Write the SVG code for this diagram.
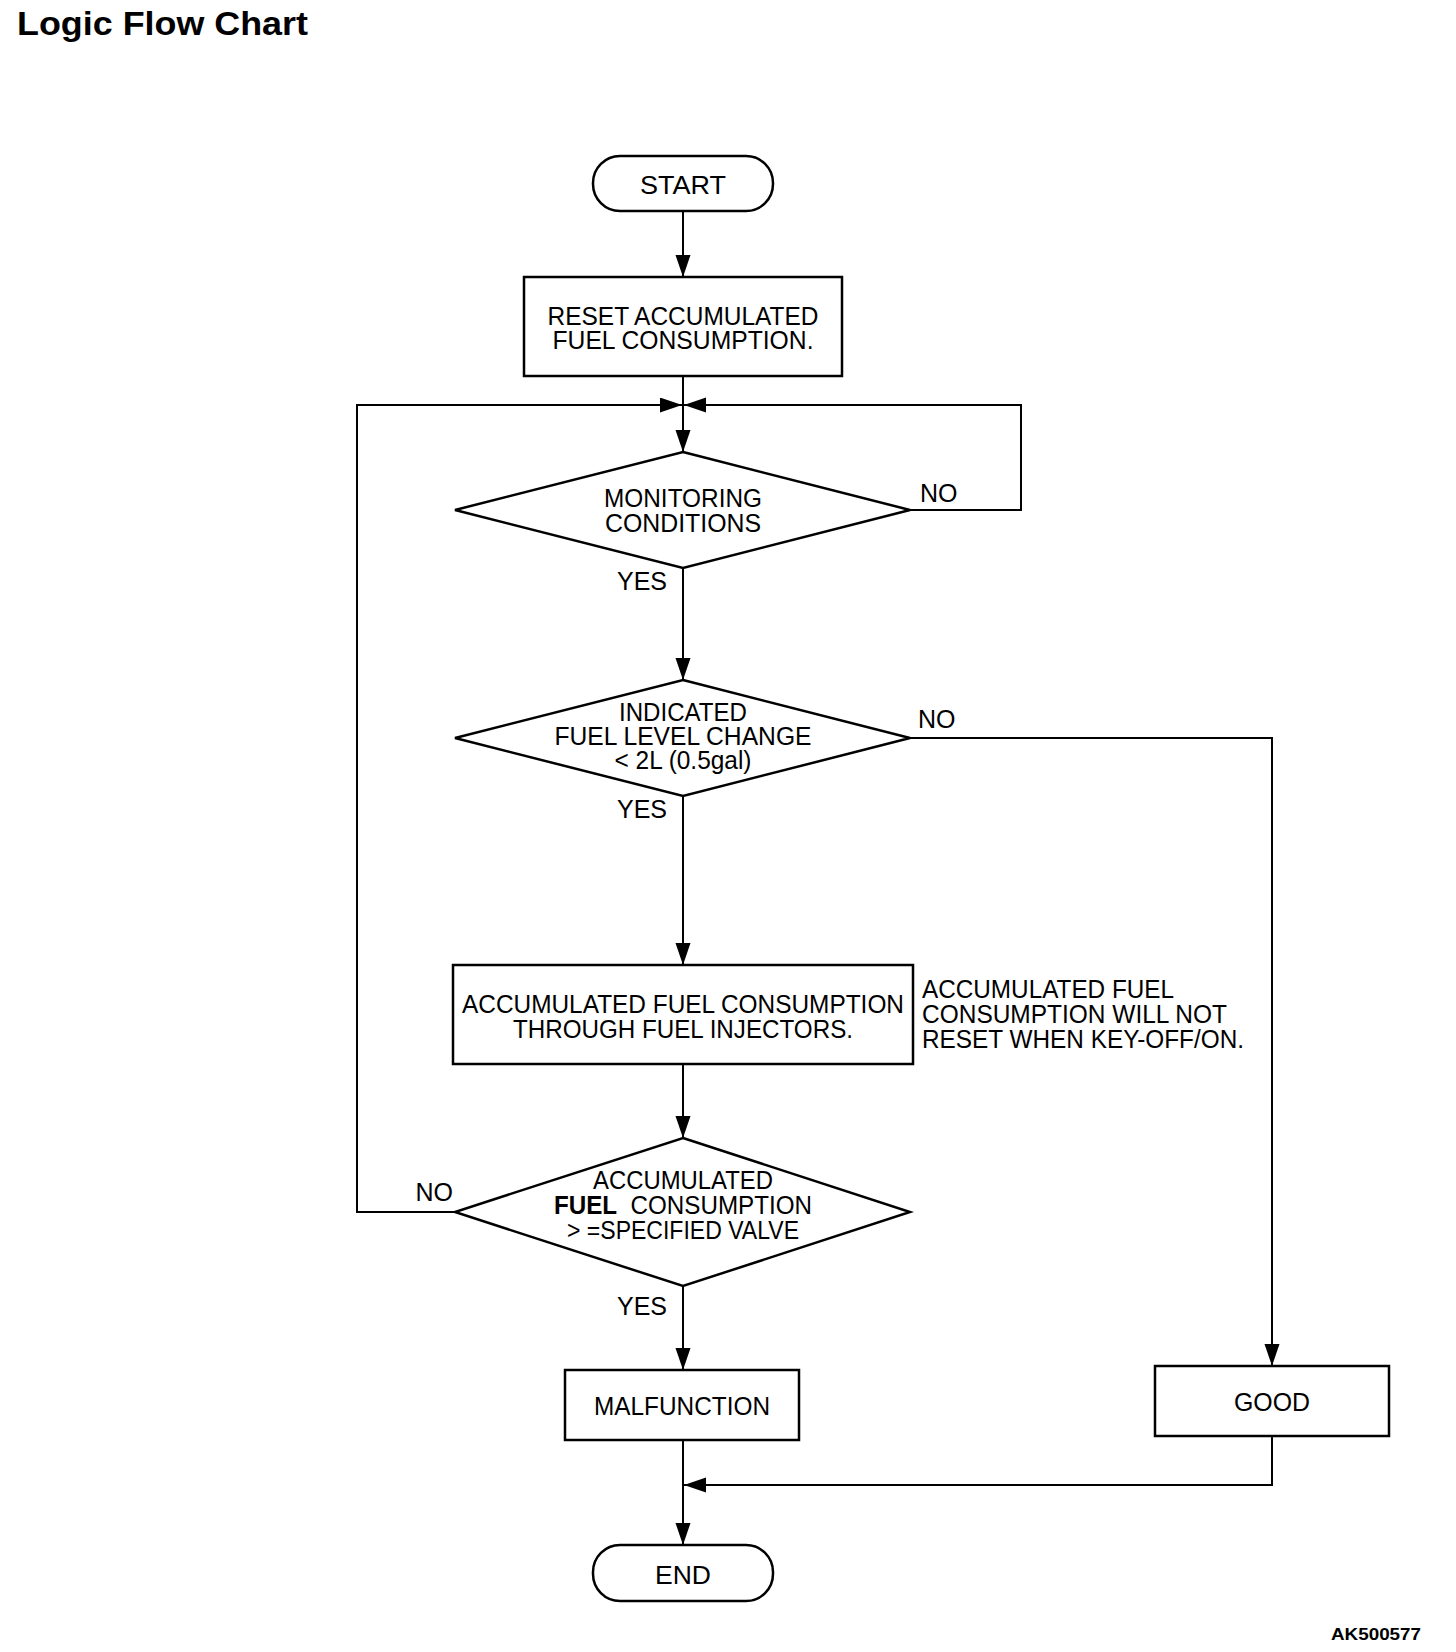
<svg xmlns="http://www.w3.org/2000/svg" width="1456" height="1652" viewBox="0 0 1456 1652">
<style>
  .shape { fill: #fff; stroke: #000; stroke-width: 2.5; }
  .conn { fill: none; stroke: #000; stroke-width: 2; }
  text { font-family: "Liberation Sans", Arial, sans-serif; font-size: 25px; fill: #000; }
  .c { text-anchor: middle; }
  .e { text-anchor: end; }
  .term { font-size: 26px; }
</style>
<defs>
  <marker id="arr" markerUnits="userSpaceOnUse" markerWidth="24" markerHeight="16" refX="22" refY="7.5" orient="auto">
    <path d="M0,0 L22,7.5 L0,15 Z" fill="#000"/>
  </marker>
</defs>
<rect width="1456" height="1652" fill="#fff"/>
<text x="17" y="35" style="font-size:33px;font-weight:bold" textLength="291" lengthAdjust="spacingAndGlyphs">Logic Flow Chart</text>

<g id="connectors">
  <line class="conn" x1="683" y1="211" x2="683" y2="277" marker-end="url(#arr)"/>
  <line class="conn" x1="683" y1="376" x2="683" y2="452" marker-end="url(#arr)"/>
  <polyline class="conn" points="455,1212 357,1212 357,405 682,405" marker-end="url(#arr)"/>
  <polyline class="conn" points="910,510 1021,510 1021,405 684,405" marker-end="url(#arr)"/>
  <line class="conn" x1="683" y1="568" x2="683" y2="680" marker-end="url(#arr)"/>
  <polyline class="conn" points="910,738 1272,738 1272,1366" marker-end="url(#arr)"/>
  <line class="conn" x1="683" y1="796" x2="683" y2="965" marker-end="url(#arr)"/>
  <line class="conn" x1="683" y1="1064" x2="683" y2="1138" marker-end="url(#arr)"/>
  <line class="conn" x1="683" y1="1286" x2="683" y2="1370" marker-end="url(#arr)"/>
  <line class="conn" x1="683" y1="1440" x2="683" y2="1545" marker-end="url(#arr)"/>
  <polyline class="conn" points="1272,1436 1272,1485 684,1485" marker-end="url(#arr)"/>
  <text x="920" y="502">NO</text>
  <text class="e" x="667" y="590">YES</text>
  <text x="918" y="728">NO</text>
  <text class="e" x="667" y="818">YES</text>
  <text class="e" x="453" y="1201">NO</text>
  <text class="e" x="667" y="1315">YES</text>
</g>

<g id="start">
  <rect class="shape" x="593" y="156" width="180" height="55" rx="27" ry="27"/>
  <text class="c term" x="683" y="194" textLength="86" lengthAdjust="spacingAndGlyphs">START</text>
</g>

<g id="reset">
  <rect class="shape" x="524" y="277" width="318" height="99"/>
  <text class="c" x="683" y="325" textLength="271" lengthAdjust="spacingAndGlyphs">RESET ACCUMULATED</text>
  <text class="c" x="683" y="349" textLength="261" lengthAdjust="spacingAndGlyphs">FUEL CONSUMPTION.</text>
</g>

<g id="monitoring">
  <polygon class="shape" points="683,452 910,510 683,568 455,510"/>
  <text class="c" x="683" y="507" textLength="158" lengthAdjust="spacingAndGlyphs">MONITORING</text>
  <text class="c" x="683" y="532" textLength="156" lengthAdjust="spacingAndGlyphs">CONDITIONS</text>
</g>

<g id="levelchange">
  <polygon class="shape" points="683,680 910,738 683,796 455,738"/>
  <text class="c" x="683" y="721" textLength="128" lengthAdjust="spacingAndGlyphs">INDICATED</text>
  <text class="c" x="683" y="745" textLength="257" lengthAdjust="spacingAndGlyphs">FUEL LEVEL CHANGE</text>
  <text class="c" x="683" y="769" textLength="137" lengthAdjust="spacingAndGlyphs">&lt; 2L (0.5gal)</text>
</g>

<g id="accumulate">
  <rect class="shape" x="453" y="965" width="460" height="99"/>
  <text class="c" x="683" y="1013" textLength="442" lengthAdjust="spacingAndGlyphs">ACCUMULATED FUEL CONSUMPTION</text>
  <text class="c" x="683" y="1038" textLength="340" lengthAdjust="spacingAndGlyphs">THROUGH FUEL INJECTORS.</text>
</g>

<g id="note">
  <text x="922" y="998" textLength="252" lengthAdjust="spacingAndGlyphs">ACCUMULATED FUEL</text>
  <text x="922" y="1023" textLength="305" lengthAdjust="spacingAndGlyphs">CONSUMPTION WILL NOT</text>
  <text x="922" y="1048" textLength="322" lengthAdjust="spacingAndGlyphs">RESET WHEN KEY-OFF/ON.</text>
</g>

<g id="specified">
  <polygon class="shape" points="683,1138 910,1212 683,1286 455,1212"/>
  <text class="c" x="683" y="1189" textLength="180" lengthAdjust="spacingAndGlyphs">ACCUMULATED</text>
  <text class="c" x="683" y="1214" textLength="258" lengthAdjust="spacingAndGlyphs" xml:space="preserve"><tspan font-weight="bold">FUEL</tspan>  CONSUMPTION</text>
  <text class="c" x="683" y="1239" textLength="232" lengthAdjust="spacingAndGlyphs">&gt; =SPECIFIED VALVE</text>
</g>

<g id="malfunction">
  <rect class="shape" x="565" y="1370" width="234" height="70"/>
  <text class="c" x="682" y="1415" textLength="176" lengthAdjust="spacingAndGlyphs">MALFUNCTION</text>
</g>

<g id="good">
  <rect class="shape" x="1155" y="1366" width="234" height="70"/>
  <text class="c" x="1272" y="1411" textLength="76" lengthAdjust="spacingAndGlyphs">GOOD</text>
</g>

<g id="end">
  <rect class="shape" x="593" y="1545" width="180" height="56" rx="27" ry="27"/>
  <text class="c term" x="683" y="1584" textLength="56" lengthAdjust="spacingAndGlyphs">END</text>
</g>

<text x="1331" y="1640" style="font-size:17px;font-weight:bold" textLength="90" lengthAdjust="spacingAndGlyphs">AK500577</text>
</svg>
